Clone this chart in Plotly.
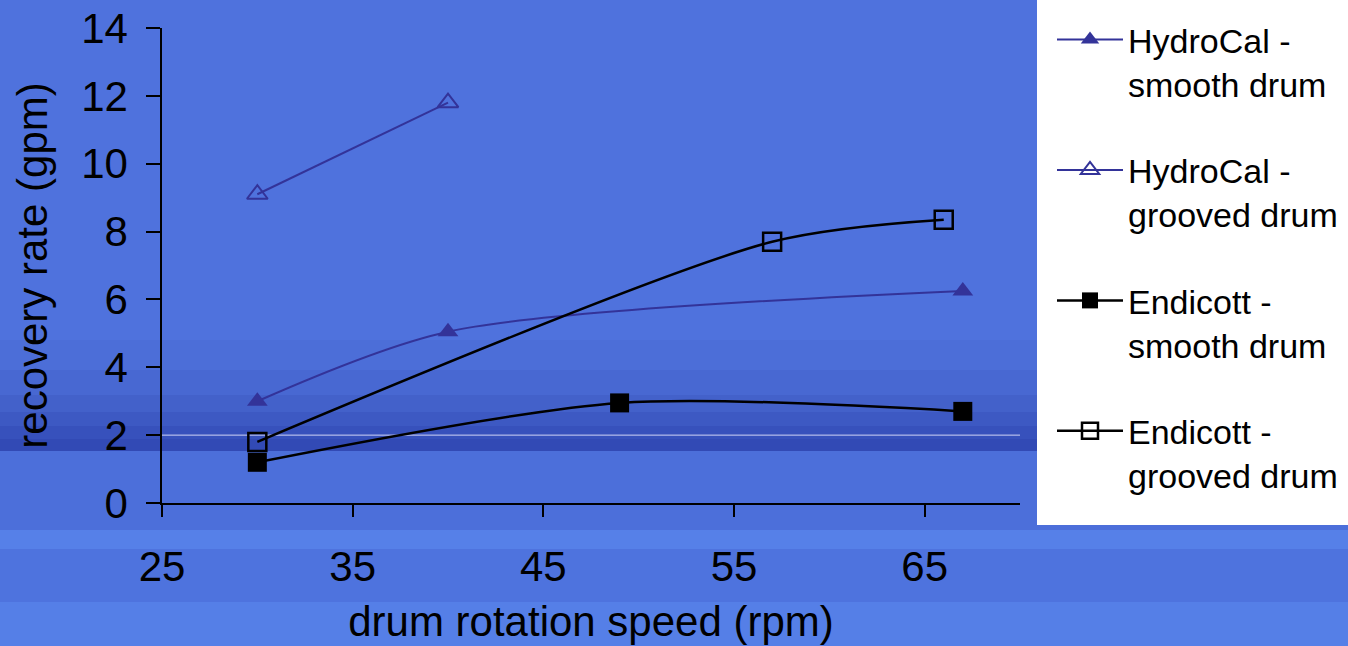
import plotly.graph_objects as go

# ---------------- data ----------------
hc_smooth_x = [30, 40, 67]
hc_smooth_y = [3.0, 5.05, 6.25]
hc_grooved_x = [30, 40]
hc_grooved_y = [9.1, 11.8]
en_smooth_x = [30, 49, 67]
en_smooth_y = [1.2, 2.95, 2.7]
en_grooved_x = [30, 57, 66]
en_grooved_y = [1.8, 7.7, 8.35]

series_names = ["HydroCal -<br>smooth drum", "HydroCal -<br>grooved drum",
                "Endicott -<br>smooth drum", "Endicott -<br>grooved drum"]
x_ticks = [25, 35, 45, 55, 65]
y_ticks = [0, 2, 4, 6, 8, 10, 12, 14]

# ---------------- style ----------------
W, H = 1348, 646
ML, MR, MT, MB = 162, 328, 28, 143
PW, PH = W - ML - MR, H - MT - MB
FONT = "Liberation Sans, Arial, sans-serif"
INDIGO = "#333399"


def px_x(p):
    return (p - ML) / PW


def px_y(p):
    return (H - MB - p) / PH


# background bands (pixel row ranges and colours)
bands = [
    (0, 340, "rgb(79,114,221)"),
    (340, 370, "rgb(76,110,216)"),
    (370, 395, "rgb(72,104,210)"),
    (395, 412, "rgb(67,97,202)"),
    (412, 426, "rgb(61,89,195)"),
    (426, 439, "rgb(55,81,188)"),
    (439, 451, "rgb(50,74,181)"),
    (451, 530, "rgb(76,111,218)"),
    (530, 549, "rgb(86,128,232)"),
    (549, 602, "rgb(78,115,222)"),
    (602, 646, "rgb(85,127,231)"),
]

shapes = []
for top, bot, col in bands:
    shapes.append(dict(type="rect", xref="paper", yref="paper",
                       x0=px_x(0), x1=px_x(W), y0=px_y(bot), y1=px_y(top),
                       fillcolor=col, line=dict(width=0), layer="below"))
# thin light line across plot at y=2
shapes.append(dict(type="line", xref="paper", yref="y", x0=0, x1=1, y0=2, y1=2,
                   line=dict(color="rgba(235,235,255,0.85)", width=1), layer="below"))
# white legend panel
shapes.append(dict(type="rect", xref="paper", yref="paper",
                   x0=px_x(1037), x1=px_x(W + 2), y0=px_y(525), y1=px_y(-2),
                   fillcolor="white", line=dict(width=0), layer="below"))

fig = go.Figure()
fig.add_trace(go.Scatter(
    x=hc_smooth_x, y=hc_smooth_y, name=series_names[0], legendgroup="a",
    mode="lines+markers", line=dict(color=INDIGO, width=2, shape="spline", smoothing=0.8),
    marker=dict(symbol="triangle-up", size=18, color=INDIGO)))
fig.add_trace(go.Scatter(
    x=hc_grooved_x, y=hc_grooved_y, name=series_names[1], legendgroup="b",
    mode="lines+markers", line=dict(color=INDIGO, width=2, shape="spline", smoothing=0.8),
    marker=dict(symbol="triangle-up-open", size=18, color=INDIGO, line=dict(width=2, color=INDIGO))))
fig.add_trace(go.Scatter(
    x=en_smooth_x, y=en_smooth_y, name=series_names[2], legendgroup="c",
    mode="lines+markers", line=dict(color="black", width=2.5, shape="spline", smoothing=0.8),
    marker=dict(symbol="square", size=19, color="black")))
fig.add_trace(go.Scatter(
    x=en_grooved_x, y=en_grooved_y, name=series_names[3], legendgroup="d",
    mode="lines+markers", line=dict(color="black", width=2.5, shape="spline", smoothing=0.8),
    marker=dict(symbol="square-open", size=18, color="black", line=dict(width=2.5, color="black"))))

fig.update_layout(
    width=W, height=H,
    margin=dict(l=ML, r=MR, t=MT, b=MB, pad=0, autoexpand=False),
    paper_bgcolor="rgb(79,114,221)",
    plot_bgcolor="rgba(0,0,0,0)",
    font=dict(family=FONT, color="black", size=42),
    shapes=shapes,
    showlegend=True,
    legend=dict(
        x=px_x(1052), xanchor="left", y=px_y(11), yanchor="top",
        bgcolor="rgba(0,0,0,0)", borderwidth=0,
        font=dict(family=FONT, size=34, color="black"),
        traceorder="grouped", tracegroupgap=39, valign="top",
        itemwidth=66, maxheight=620,
    ),
    xaxis=dict(
        range=[25, 70], tickvals=x_ticks, ticktext=[str(v) for v in x_ticks],
        showline=True, linecolor="black", linewidth=1.5,
        ticks="outside", ticklen=12, tickwidth=1.5, tickcolor="black",
        showgrid=False, zeroline=False, ticklabelstandoff=14,
        tickfont=dict(size=42),
        title=dict(text="drum rotation speed (rpm)", font=dict(size=42), standoff=17),
    ),
    yaxis=dict(
        range=[0, 14], tickvals=y_ticks, ticktext=[str(v) for v in y_ticks],
        showline=True, linecolor="black", linewidth=1.5,
        ticks="outside", ticklen=14, tickwidth=1.5, tickcolor="black",
        showgrid=False, zeroline=False, ticklabelstandoff=10,
        tickfont=dict(size=42),
        title=dict(text="recovery rate (gpm)", font=dict(size=42), standoff=20),
    ),
)

fig.write_html("out.html")
